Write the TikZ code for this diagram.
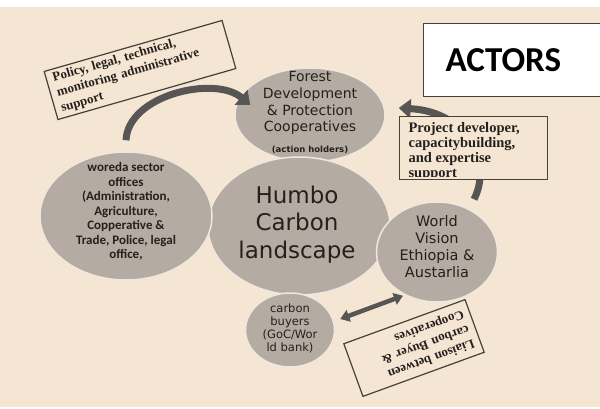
\documentclass[tikz,border=0pt]{standalone}
\usepackage{fontspec}
\setmainfont{Liberation Serif}
\newfontfamily\carlitofont{Carlito}
\newfontfamily\dejavufont{DejaVu Sans}
\usepackage{tikz}
\usetikzlibrary{shapes.geometric}
\usetikzlibrary{arrows.meta}
\definecolor{bgbeige}{RGB}{245,230,212}
\definecolor{blobgray}{RGB}{180,172,162}
\definecolor{rimlight}{RGB}{240,232,222}
\definecolor{arrowgray}{RGB}{88,86,84}
\definecolor{inkdark}{RGB}{36,32,28}
\definecolor{boxline}{RGB}{70,64,58}
\tikzset{
actor/.style={
  ellipse,
  fill=blobgray,
  draw=rimlight,
  line width=1.5pt,
  inner sep=0pt
},
actortext/.style={
  inner sep=0pt,
  align=center,
  text=inkdark
},
rolebox/.style={
  rectangle,
  draw=boxline,
  line width=1.2pt,
  fill=bgbeige,
  text=inkdark,
  align=left,
  font=\bfseries\fontsize{13}{15.5}\selectfont
},
flow/.style={
  draw=arrowgray,
  line width=7pt,
  -{Triangle[width=19pt,length=12pt]}
},
link/.style={
  draw=arrowgray,
  line width=4.5pt,
  {Triangle[width=12pt,length=9pt]}-{Triangle[width=12pt,length=9pt]}
},
}

\begin{document}
\begin{tikzpicture}[x=1pt,y=-1pt]
\useasboundingbox (0,0) rectangle (600,409);
\fill[white] (0,0) rectangle (600,409);
\fill[bgbeige] (0,7) rectangle (600,407);
% the actors
\node[actor,minimum width=150pt,minimum height=94pt] (forest) at (310,115) {};
\node[actor,minimum width=182pt,minimum height=138pt] (humbo) at (299,226) {};
\node[actor,minimum width=172pt,minimum height=128pt] (woreda) at (126,216) {};
\node[actor,minimum width=121pt,minimum height=100pt] (wv) at (437,252) {};
\node[actor,minimum width=89pt,minimum height=74pt] (buyers) at (290,330) {};
\node[actortext,font=\dejavufont\fontsize{14}{16.7}\selectfont] (forest-txt) at (310,103.3)
  {Forest\\Development\\\& Protection\\Cooperatives};
\node[actortext,font=\dejavufont\bfseries\fontsize{8.5}{10}\selectfont] (forest-role) at (310,150)
  {(action holders)};
\node[actortext,font=\dejavufont\fontsize{23}{27.5}\selectfont] (humbo-txt) at (297,224.5)
  {Humbo\\Carbon\\landscape};
\node[actortext,font=\carlitofont\bfseries\fontsize{13}{14.5}\selectfont] (woreda-txt) at (126,211.7)
  {woreda sector\\offices\\(Administration,\\Agriculture,\\Copperative \&\\Trade, Police, legal\\office,};
\node[actortext,font=\dejavufont\fontsize{14.5}{17}\selectfont] (wv-txt) at (437,247)
  {World\\Vision\\Ethiopia \&\\Austarlia};
\node[actortext,font=\dejavufont\fontsize{11.5}{13}\selectfont] (buyers-txt) at (290,328)
  {carbon\\buyers\\(GoC/Wor\\ld bank)};
% the arrows
\draw[flow] ([yshift=11pt]woreda.north) .. controls (128,95) and (215,75) .. ([xshift=16pt,yshift=10pt]forest.west);
\draw[flow] ([xshift=37pt,yshift=2pt]wv.north) .. controls (492,165) and (470,112) .. ([xshift=13pt,yshift=7pt]forest.east);
\draw[link] ([xshift=5pt,yshift=11pt]buyers.east) -- ([xshift=-34pt,yshift=7pt]wv.south);
% the boxes
\node[rolebox,rotate=16,minimum width=185pt,minimum height=50pt,text width=172pt] (policy) at (140,70)
  {Policy, legal, technical,\\monitoring administrative\\support};
\node[rolebox,minimum width=148pt,minimum height=63pt,anchor=north west] (project) at (399,116) {};
\begin{scope}
\clip (project.north west) rectangle ([yshift=4pt]project.south east);
\node[rolebox,draw=none,fill=none,anchor=north west,inner sep=0pt,font=\bfseries\fontsize{14.5}{15}\selectfont] (project-txt) at (408,122)
  {Project developer,\\capacitybuilding,\\and expertise\\support};
\end{scope}
\node[rolebox,rotate=200,minimum width=129pt,minimum height=56pt,text width=116pt] (liaison) at (414,348)
  {Liaison between\\carbon Buyer \&\\Cooperatives};
\node[draw=boxline,line width=1.3pt,fill=white,minimum width=195pt,minimum height=73pt,inner xsep=22pt,
  text width=151pt,align=left,font=\carlitofont\bfseries\fontsize{35}{40}\selectfont,anchor=north west] (actors) at (423,23) {ACTORS};
\end{tikzpicture}
\end{document}
